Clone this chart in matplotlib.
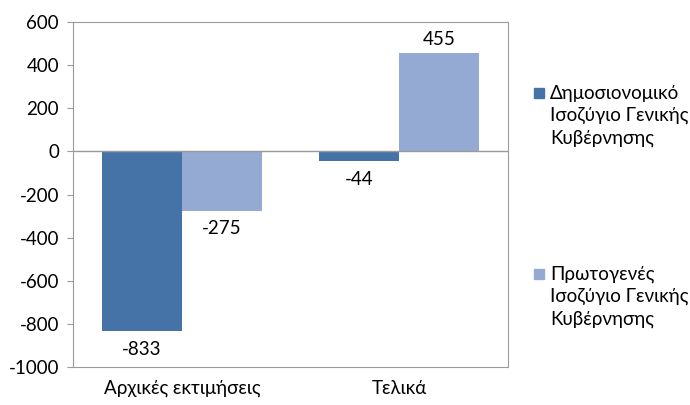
import matplotlib.pyplot as plt
from matplotlib.patches import Rectangle
import numpy as np

plt.rcParams['font.family'] = ['Lato', 'DejaVu Sans']
plt.rcParams['axes.unicode_minus'] = False

categories = ['Αρχικές εκτιμήσεις', 'Τελικά']
dimosionomiko = [-833, -44]
protogenes = [-275, 455]
series_names = [['Δημοσιονομικό', 'Ισοζύγιο Γενικής', 'Κυβέρνησης'],
                ['Πρωτογενές', 'Ισοζύγιο Γενικής', 'Κυβέρνησης']]
yticks = [-1000, -800, -600, -400, -200, 0, 200, 400, 600]

c_dark = '#4673A7'
c_light = '#95AAD2'
fs = 13.5

fig = plt.figure(figsize=(6.9, 4.05), dpi=100)
ax = fig.add_axes([73/690, 38/405, 435/690, 345/405])

x = np.arange(len(categories))
w = 0.368
b1 = ax.bar(x - w/2, dimosionomiko, w, color=c_dark)
b2 = ax.bar(x + w/2, protogenes, w, color=c_light)

for bars in (b1, b2):
    for r in bars:
        v = r.get_height()
        ax.annotate(f'{v:.0f}', (r.get_x() + r.get_width()/2, v),
                    xytext=(0, 4 if v > 0 else -7), textcoords='offset points',
                    ha='center', va='bottom' if v > 0 else 'top', fontsize=fs)

ax.axhline(0, color='#9a9a9a', lw=1)
ax.set_xlim(-0.5, 1.5)
ax.set_ylim(-1000, 600)
ax.set_yticks(yticks)
ax.set_xticks(x)
ax.set_xticklabels(categories)
ax.tick_params(axis='y', length=4, color='#9a9a9a', labelsize=fs, pad=6)
ax.tick_params(axis='x', length=0, labelsize=fs, pad=9)
for s in ax.spines.values():
    s.set_color('#9a9a9a')

# legend drawn by hand: square next to the first line, lines stacked below
W, H = 690, 405
for names, col, ytop in zip(series_names, [c_dark, c_light], [93, 274]):
    fig.patches.append(Rectangle((534/W, 1 - (ytop + 5)/H), 10/W, 10/H,
                                 transform=fig.transFigure, color=col))
    for i, line in enumerate(names):
        fig.text(550/W, 1 - (ytop + i*22.5)/H, line, fontsize=fs,
                 ha='left', va='center')

fig.savefig('out.png', dpi=100)
